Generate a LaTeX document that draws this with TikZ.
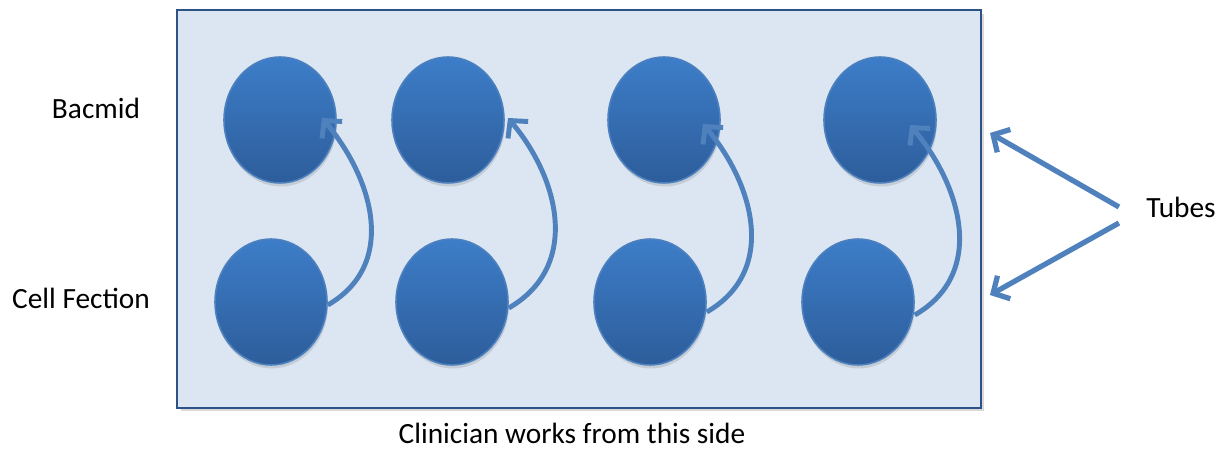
\documentclass[tikz,border=0pt]{standalone}
\usepackage{fontspec}
\setmainfont{Carlito}
\usepackage{tikz}
\usetikzlibrary{arrows.meta,shapes.geometric,shadows,calc}
\definecolor{platefill}{RGB}{220,230,242}
\definecolor{plateline}{RGB}{44,82,136}
\definecolor{tubetop}{RGB}{61,125,200}
\definecolor{tubebot}{RGB}{45,93,155}
\definecolor{tubeline}{RGB}{76,128,190}
\definecolor{arrowblue}{RGB}{79,129,189}

\tikzset{
    tube/.style={ellipse, minimum width=2.24cm, minimum height=2.52cm, inner sep=0pt,
        top color=tubetop, bottom color=tubebot, draw=tubeline, line width=0.9pt,
        drop shadow={shadow xshift=0.5pt, shadow yshift=-2pt, opacity=0.25}},
    label/.style={font=\fontsize{16.7}{20}\selectfont, inner sep=0pt},
    flow/.style={arrowblue, line width=2.8pt, -{Straight Barb[length=7pt,width=15pt,line width=2.8pt]}},
}

\begin{document}
\begin{tikzpicture}[x=0.02cm, y=-0.02cm]
        \useasboundingbox (0,0) rectangle (1225,449);
        % plate
        \node[draw=plateline, fill=platefill, line width=1.2pt, minimum width=16.08cm, minimum height=7.96cm,
            inner sep=0pt, drop shadow={shadow xshift=2pt, shadow yshift=-2pt, opacity=0.3}] (plate) at (579,209) {};
        % tubes, top row and bottom row
        \foreach \n/\tx/\bx in {1/280/271, 2/448/452, 3/664/650, 4/880/858} {
            \node[tube] (top\n) at (\tx,120) {};
            \node[tube] (bot\n) at (\bx,302) {};
        }
        % transfer arrows
        \draw[flow] ($(bot1.east)+(0,3)$) to[out=30,in=-50,looseness=1.1] ($(top1.center)+(42,-2)$);
        \draw[flow] ($(bot2.east)+(0,6)$) to[out=30,in=-50,looseness=1.1] ($(top2.center)+(60,-2)$);
        \draw[flow] ($(bot3.east)+(0,10)$) to[out=30,in=-50,looseness=1.1] ($(top3.center)+(39,4)$);
        \draw[flow] ($(bot4.east)+(0,13)$) to[out=30,in=-50,looseness=1.1] ($(top4.center)+(30,5)$);
        % labels
        \node[label] (bacmid) at (96,108) {Bacmid};
        \node[label] (cellfection) at (81,298) {Cell Fection};
        \node[label] (tubes) at (1181,207) {Tubes};
        \node[label] (side) at (572,433) {Clinician works from this side};
        \coordinate (tubesA) at (990,133);
        \coordinate (tubesB) at (990,295);
        \draw[arrowblue, line width=3pt, -{Straight Barb[length=7pt,width=15pt,line width=3pt]}] ($(tubes.west)+(-27,0)$) -- (tubesA);
        \draw[arrowblue, line width=3pt, -{Straight Barb[length=7pt,width=15pt,line width=3pt]}] ($(tubes.west)+(-27,16)$) -- (tubesB);
    \end{tikzpicture}
\end{document}
